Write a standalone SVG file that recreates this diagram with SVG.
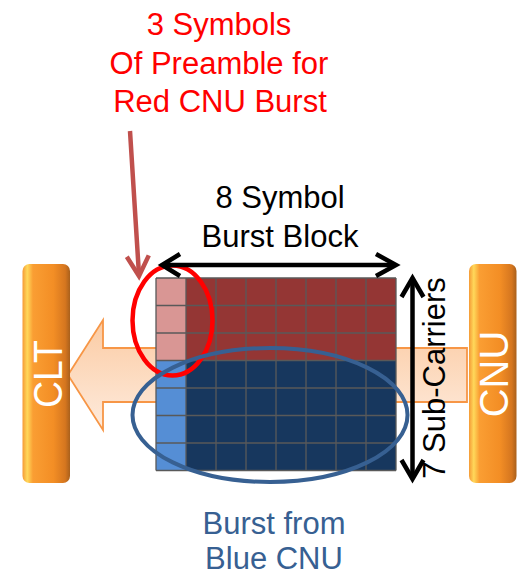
<svg xmlns="http://www.w3.org/2000/svg" width="522" height="576" viewBox="0 0 522 576">
<defs>
<linearGradient id="bar" x1="0" y1="0" x2="1" y2="0">
<stop offset="0" stop-color="#F59A36"/>
<stop offset="0.1" stop-color="#FFD85A"/>
<stop offset="0.22" stop-color="#FA9E33"/>
<stop offset="0.65" stop-color="#F38E25"/>
<stop offset="0.9" stop-color="#D5761F"/>
<stop offset="1" stop-color="#A9601C"/>
</linearGradient>
<linearGradient id="big" x1="0" y1="0" x2="0" y2="1">
<stop offset="0" stop-color="#FBCBA3"/>
<stop offset="1" stop-color="#FEEBDD"/>
</linearGradient>
<style>
.lbl{font-family:"Liberation Sans",Arial,sans-serif;font-size:31px;text-anchor:middle}
.bartxt{font-family:"Liberation Sans",Arial,sans-serif;font-size:40px;fill:#FFFFFF;text-anchor:middle}
.pre-r{fill:#D99694}
.pre-b{fill:#558ED5}
.dat-r{fill:#943634}
.dat-b{fill:#17375E}
.gl{stroke:#595959;stroke-width:1.3;fill:none}
.blk{stroke:#000;stroke-width:4.5;fill:none;stroke-linejoin:miter}
</style>
</defs>
<rect width="522" height="576" fill="#FFFFFF"/>

<g id="flow-arrow">
<path d="M68,375 L103,320 L103,348 L467,348 L467,402 L103,402 L103,430 Z" fill="url(#big)" stroke="#F79646" stroke-width="1.8"/>
</g>

<g id="CLT">
<rect x="22.5" y="264" width="47.5" height="219" rx="7" fill="url(#bar)"/>
<text class="bartxt" transform="translate(61.5,374) rotate(-90)" textLength="68" lengthAdjust="spacingAndGlyphs">CLT</text>
</g>

<g id="CNU">
<rect x="469" y="264" width="47.5" height="219" rx="7" fill="url(#bar)"/>
<text class="bartxt" transform="translate(508,374) rotate(-90)">CNU</text>
</g>

<g id="burst-block">
<rect class="pre-r" x="156" y="278" width="30" height="82.5"/>
<rect class="pre-b" x="156" y="360.5" width="30" height="110"/>
<rect class="dat-r" x="186" y="278" width="210" height="82.5"/>
<rect class="dat-b" x="186" y="360.5" width="210" height="110"/>
<path class="gl" d="M156,278H396M156,305.5H396M156,333H396M156,360.5H396M156,388H396M156,415.5H396M156,443H396M156,470.5H396
M156,278V470.5M186,278V470.5M216,278V470.5M246,278V470.5M276,278V470.5M306,278V470.5M336,278V470.5M366,278V470.5M396,278V470.5"/>
</g>

<g id="red-ellipse">
<ellipse cx="172.5" cy="320.5" rx="40" ry="55" fill="none" stroke="#FF0000" stroke-width="4.5"/>
</g>
<g id="blue-ellipse">
<ellipse cx="270" cy="415" rx="137.5" ry="67" fill="none" stroke="#376092" stroke-width="4"/>
</g>

<g id="connectors">
<path d="M130,131 L139,275" stroke="#C0504D" stroke-width="4.5" fill="none"/>
<polyline points="126.8,256.7 139,276 148.8,255.4" stroke="#C0504D" stroke-width="4.5" fill="none"/>
<path class="blk" d="M163,265 H395"/>
<polyline class="blk" points="180,254 162,265 180,276"/>
<polyline class="blk" points="376,254 396,265 376,276"/>
<path class="blk" d="M412.5,279 V477"/>
<polyline class="blk" points="401.5,297 412.5,278 423.5,297"/>
<polyline class="blk" points="401.5,460 412.5,479 423.5,460"/>
</g>

<g id="labels">
<text class="lbl" fill="#FF0000" x="219" y="35">3 Symbols</text>
<text class="lbl" fill="#FF0000" x="219" y="73.5">Of Preamble for</text>
<text class="lbl" fill="#FF0000" x="220" y="111.5">Red CNU Burst</text>
<text class="lbl" fill="#000000" x="280" y="208">8 Symbol</text>
<text class="lbl" fill="#000000" x="280" y="246.5">Burst Block</text>
<text class="lbl" fill="#376092" x="274" y="533.5">Burst from</text>
<text class="lbl" fill="#376092" x="274" y="569">Blue CNU</text>
<text class="lbl" fill="#000000" transform="translate(445,378) rotate(-90)">7 Sub-Carriers</text>
</g>
</svg>
